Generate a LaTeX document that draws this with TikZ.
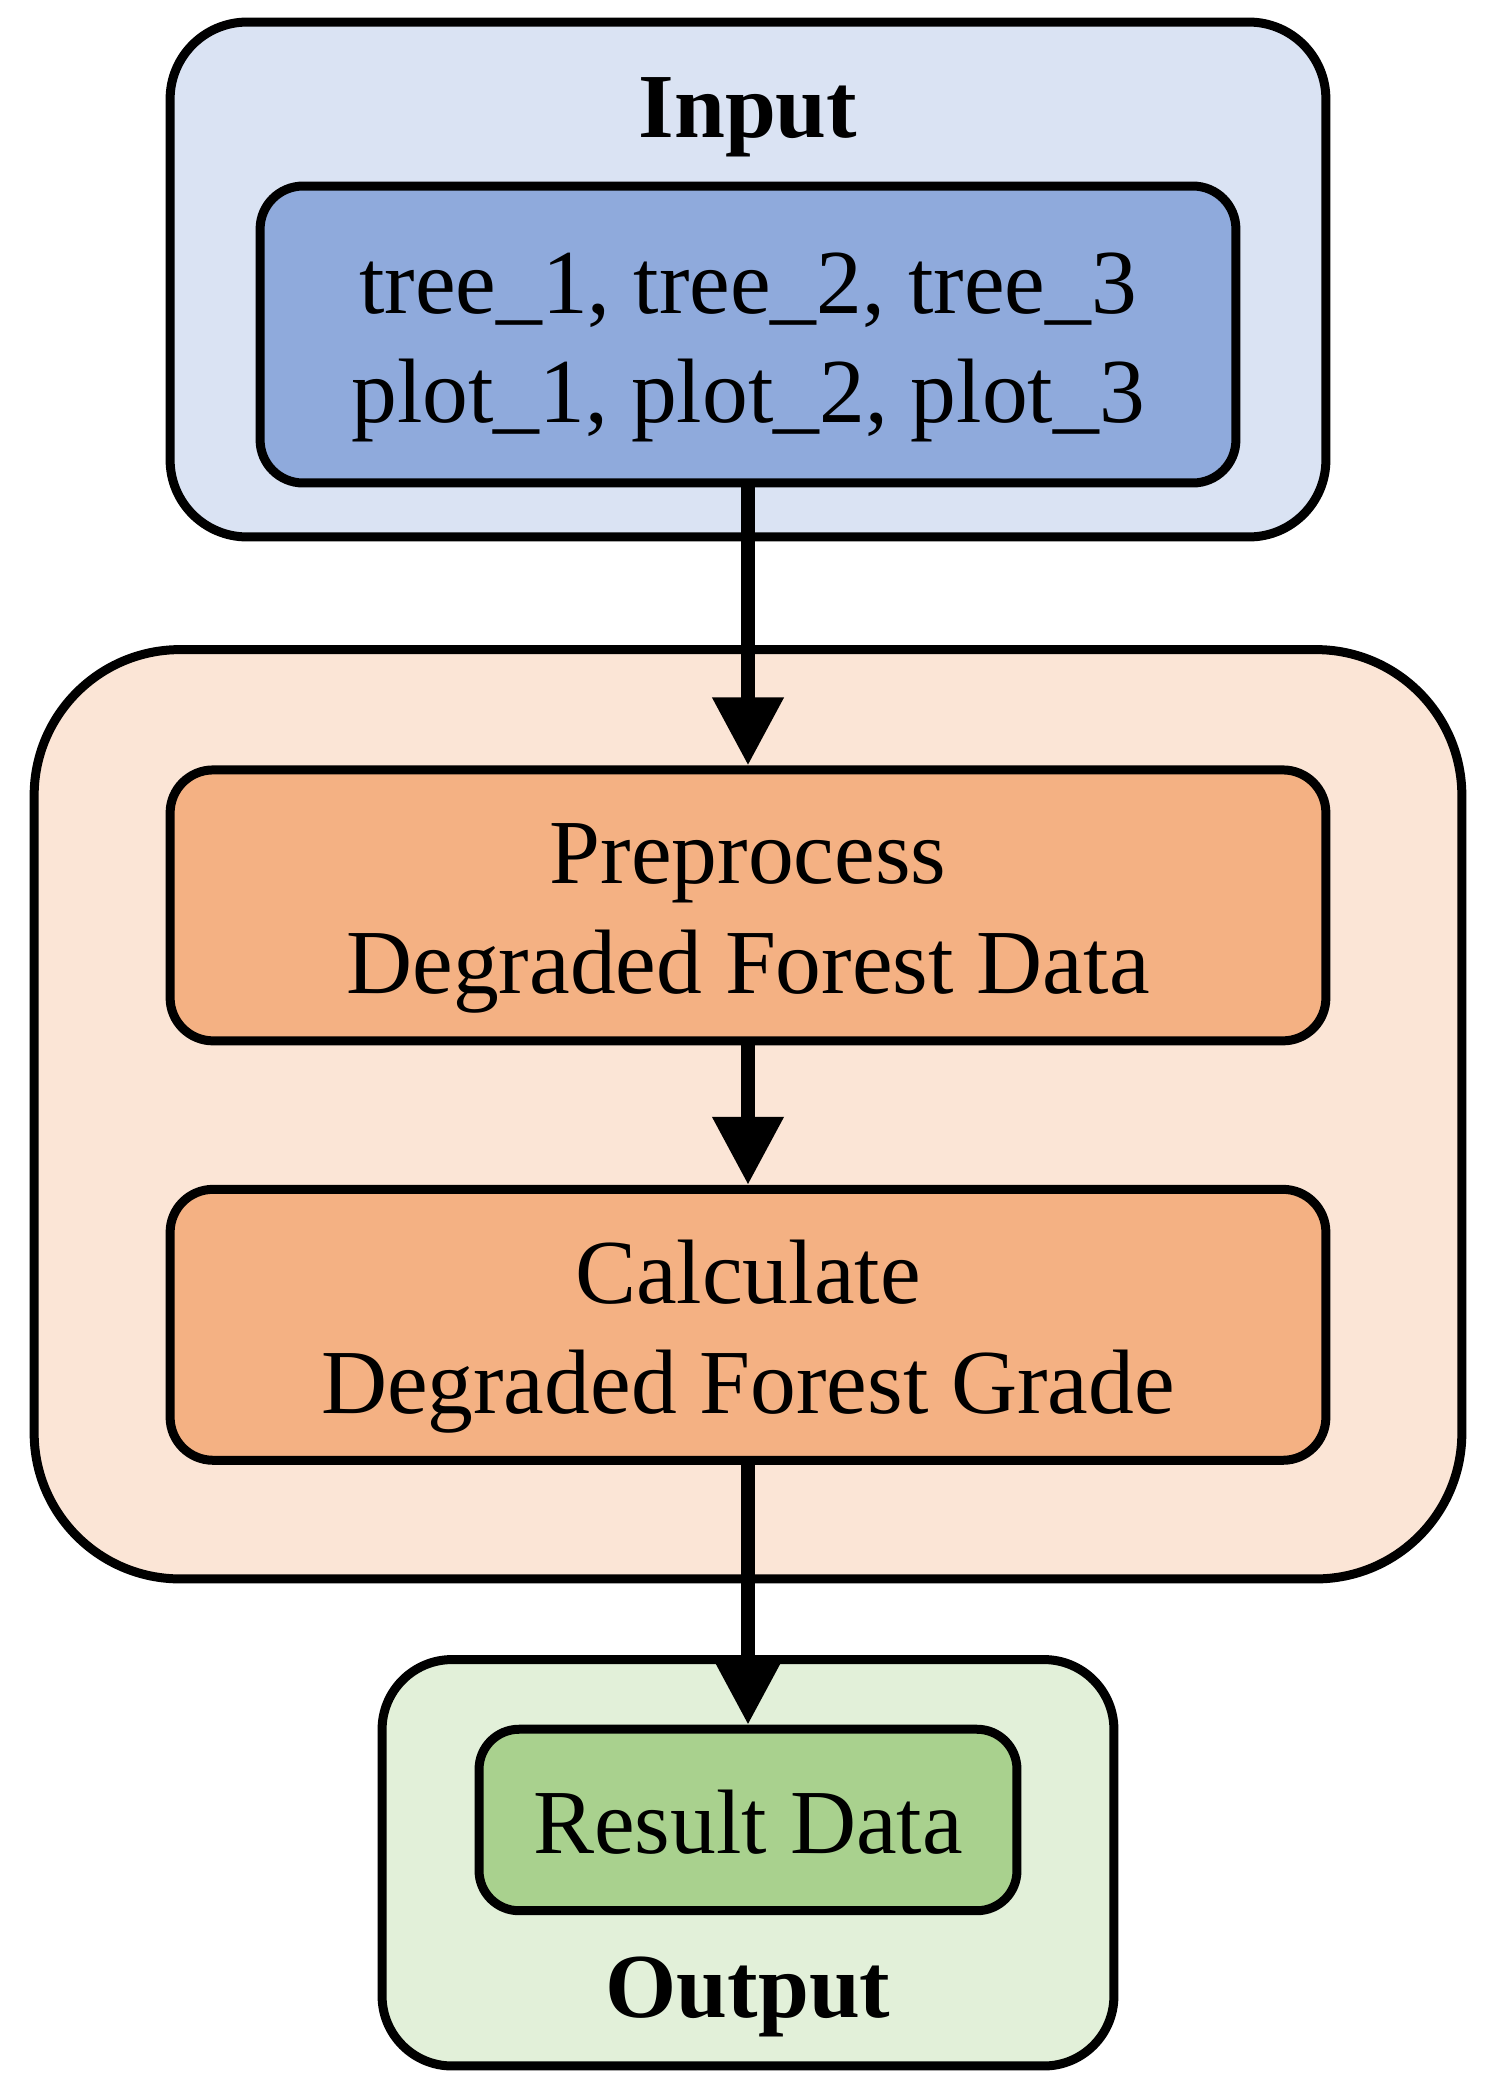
\documentclass[tikz,border=0pt]{standalone}
\usepackage{fontspec}
\setmainfont{Liberation Serif}
\usetikzlibrary{arrows.meta}

\definecolor{inputbg}{HTML}{DAE3F3}
\definecolor{inputfg}{HTML}{8FAADC}
\definecolor{procbg}{HTML}{FBE5D6}
\definecolor{procfg}{HTML}{F4B183}
\definecolor{outputbg}{HTML}{E2F0D9}
\definecolor{outputfg}{HTML}{A9D18E}

\newcommand{\gvstrut}{\rule[-0.42cm]{0pt}{2.18cm}}

\begin{document}
\begin{tikzpicture}[x=0.02cm, y=-0.02cm,
    every node/.style={align=center, inner sep=0pt, font=\fontsize{52.1}{62.6}\selectfont},
    cluster/.style={draw, rectangle, line width=0.18cm},
    box/.style={draw, rectangle, line width=0.18cm, rounded corners=0.86cm},
    flow/.style={-{Triangle[length=1.36cm, width=1.36cm]}, line width=0.28cm}]
        \useasboundingbox (0,0) rectangle (1494,2093);

        \node (inputcl) [cluster, fill=inputbg, rounded corners=1.54cm, minimum width=23.12cm, minimum height=10.3cm] at (748,279.5) {};
        \node (proccl) [cluster, fill=procbg, rounded corners=2.92cm, minimum width=28.56cm, minimum height=18.59cm] at (748,1114.25) {};
        \node (outputcl) [cluster, fill=outputbg, rounded corners=1.4cm, minimum width=14.64cm, minimum height=8.13cm] at (748,1862.75) {};

        \node (inputlabel) [anchor=base, font=\fontsize{52.1}{62.6}\selectfont\bfseries] at (748,137) {Input};
        \node (outputlabel) [anchor=base, font=\fontsize{52.1}{62.6}\selectfont\bfseries] at (748,2017) {Output};

        \node (data) [box, fill=inputfg, minimum width=19.52cm, minimum height=5.94cm] at (748,334.5) {\gvstrut tree\_1, tree\_2, tree\_3\\\gvstrut plot\_1, plot\_2, plot\_3};
        \node (preprocess) [box, fill=procfg, minimum width=23.12cm, minimum height=5.42cm, below of=data, node distance=11.42cm] {\gvstrut Preprocess\\\gvstrut Degraded Forest Data};
        \node (calculate) [box, fill=procfg, minimum width=23.12cm, minimum height=5.42cm, below of=preprocess, node distance=8.39cm] {\gvstrut Calculate\\\gvstrut Degraded Forest Grade};
        \node (result) [box, fill=outputfg, rounded corners=0.8cm, minimum width=10.76cm, minimum height=3.63cm, below of=calculate, node distance=9.905cm] {\gvstrut Result Data};

        \draw[flow] (data) -- (preprocess);
        \draw[flow] (preprocess) -- (calculate);
        \draw[flow] (calculate) -- (result);
    \end{tikzpicture}
\end{document}
